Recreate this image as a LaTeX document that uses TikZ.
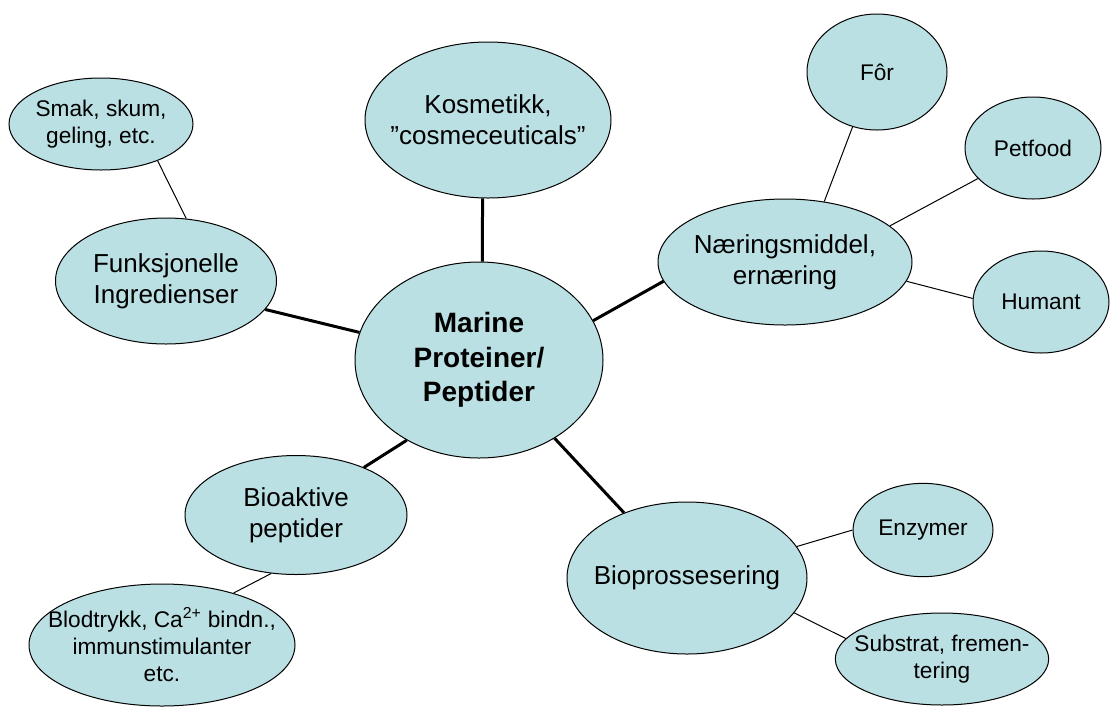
\documentclass[tikz,border=0pt]{standalone}
\usepackage{fontspec}
\setmainfont{Liberation Sans}
\usetikzlibrary{positioning, shapes}
\definecolor{seablue}{RGB}{187,224,227}
\newcommand{\rimwidth}{0.75pt}
\tikzstyle{hub} = [% central node
  ellipse,
  draw=black,
  line width=\rimwidth,
  fill=seablue,
  inner sep=-20pt,
  align=center,
  font=\bfseries\fontsize{21}{26}\selectfont
  ]
\tikzstyle{topic} = [% main branch node
  ellipse,
  draw=black,
  line width=\rimwidth,
  fill=seablue,
  inner sep=-20pt,
  align=center,
  font=\fontsize{19.5}{23}\selectfont
  ]
\tikzstyle{detail} = [% leaf node
  ellipse,
  draw=black,
  line width=\rimwidth,
  fill=seablue,
  inner sep=-20pt,
  align=center,
  font=\fontsize{17}{20.5}\selectfont
  ]
\tikzstyle{link} = [% hub to branch
  line width=2.25pt
  ]
\tikzstyle{sublink} = [% branch to leaf
  line width=0.75pt
  ]

\begin{document}
\begin{tikzpicture}[x=0.75pt, y=-0.75pt]
\useasboundingbox (0,0) rectangle (1111,708);

%%% Nodes
\node[hub, minimum width=186pt, minimum height=147pt] (centre) at (479,360) {Marine\\Proteiner/\\Peptider};
\node[topic, minimum width=184.5pt, minimum height=117pt] (kosmetikk) [above right=180pt and 6.75pt of centre.center, anchor=center] {Kosmetikk,\\”cosmeceuticals”};
\node[topic, minimum width=165.75pt, minimum height=94.5pt] (funksjon) [above left=59.25pt and 234.75pt of centre.center, anchor=center] {Funksjonelle\\Ingredienser};
\node[topic, minimum width=190.5pt, minimum height=94.5pt] (naering) [above right=73.5pt and 229.5pt of centre.center, anchor=center] {Næringsmiddel,\\ernæring};
\node[topic, minimum width=166.5pt, minimum height=89.25pt] (bioaktiv) [below left=116.25pt and 137.25pt of centre.center, anchor=center] {Bioaktive\\peptider};
\node[topic, minimum width=180pt, minimum height=114pt] (bioprosess) [below right=163.5pt and 156pt of centre.center, anchor=center] {Bioprossesering};

\node[detail, minimum width=138pt, minimum height=69pt] (smak) [above left=117.75pt and 48.75pt of funksjon.center, anchor=center] {Smak, skum,\\geling, etc.};
\node[detail, minimum width=105pt, minimum height=87pt] (foer) [above right=142.5pt and 69pt of naering.center, anchor=center] {Fôr};
\node[detail, minimum width=102pt, minimum height=76.5pt] (petfood) [above right=85.5pt and 186pt of naering.center, anchor=center] {Petfood};
\node[detail, minimum width=102pt, minimum height=76.5pt] (humant) [below right=30pt and 192pt of naering.center, anchor=center] {Humant};
\node[detail, minimum width=199.5pt, minimum height=91.5pt] (blodtrykk) [below left=97.5pt and 100.5pt of bioaktiv.center, anchor=center] {Blodtrykk, Ca\textsuperscript{2+} bindn.,\\immunstimulanter\\etc.};
\node[detail, minimum width=105pt, minimum height=70pt] (enzymer) [above right=36pt and 177pt of bioprosess.center, anchor=center] {Enzymer};
\node[detail, minimum width=160pt, minimum height=69pt] (substrat) [below right=60.75pt and 191.25pt of bioprosess.center, anchor=center] {Substrat, fremen-\\tering};

%%% Connectors
\draw[link] (centre.88) -- (kosmetikk.-94);
\draw[link] (centre.167) -- (funksjon.-16);
\draw[link] (centre.19) -- (naering.189);
\draw[link] (centre.-132) -- (bioaktiv.35);
\draw[link] (centre.-46) -- (bioprosess.134);

\draw[sublink] (smak.-33) -- (funksjon.72);
\draw[sublink] (naering.57) -- (foer.-114);
\draw[sublink] (naering.19) -- (petfood.-151);
\draw[sublink] (naering.-9) -- (humant.177);
\draw[sublink] (bioaktiv.-113) -- (blodtrykk.36);
\draw[sublink] (bioprosess.16) -- (enzymer.180);
\draw[sublink] (bioprosess.-18) -- (substrat.168);

\end{tikzpicture}
\end{document}
